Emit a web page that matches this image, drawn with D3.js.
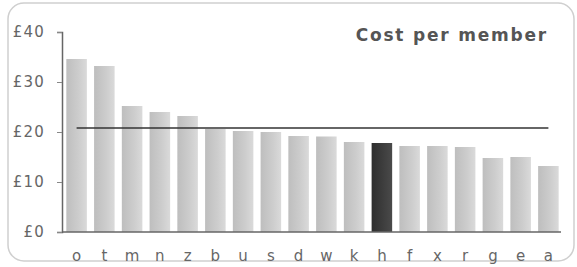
<!DOCTYPE html>
<html><head><meta charset="utf-8">
<script src="https://cdn.jsdelivr.net/npm/d3@7"></script>
<style>body{margin:0;background:#fff}svg{display:block}</style>
</head><body>
<svg id="c" width="577" height="267"></svg>
<script>
const categories = ["o","t","m","n","z","b","u","s","d","w","k","h","f","x","r","g","e","a"];
const values = [34.6,33.2,25.2,24,23.2,20.6,20.2,20,19.2,19.1,18,17.8,17.2,17.2,17,14.8,15,13.2];
const highlight = "h";
const average = 20.8;
const yTicks = [0,10,20,30,40];
const title = "Cost per member";

const svg = d3.select("#c");
const defs = svg.append("defs");
const g1 = defs.append("linearGradient").attr("id","bar").attr("x1","0").attr("x2","1");
g1.append("stop").attr("offset","0").attr("stop-color","#bebebe");
g1.append("stop").attr("offset","0.6").attr("stop-color","#cdcdcd");
g1.append("stop").attr("offset","1").attr("stop-color","#dadada");
const g2 = defs.append("linearGradient").attr("id","barH").attr("x1","0").attr("x2","1");
g2.append("stop").attr("offset","0").attr("stop-color","#2e2e2e");
g2.append("stop").attr("offset","1").attr("stop-color","#4a4a4a");

// frame
svg.append("rect").attr("x",8).attr("y",3).attr("width",566).attr("height",258)
  .attr("rx",16).attr("fill","#fff").attr("stroke","#cfcfcf").attr("stroke-width",1.5);

const x = d3.scaleBand().domain(categories).range([63,562]).paddingInner(0.26).paddingOuter(0.12);
const y = d3.scaleLinear().domain([0,40]).range([232,32]);

svg.append("g").selectAll("rect").data(categories).join("rect")
  .attr("x",d=>x(d)).attr("width",x.bandwidth())
  .attr("y",(d,i)=>y(values[i])).attr("height",(d,i)=>y(0)-y(values[i]))
  .attr("fill",d=>d===highlight?"url(#barH)":"url(#bar)");

// y axis
const yAxis = d3.axisLeft(y).tickValues(yTicks).tickFormat(d=>"£"+d).tickSize(5).tickPadding(12);
const ya = svg.append("g").attr("transform","translate(62,0)").call(yAxis);
ya.select(".domain").attr("stroke","#666").attr("stroke-width",1.5);
ya.selectAll(".tick line").attr("stroke","#888");
ya.selectAll(".tick text").attr("fill","#666").style("font-family","DejaVu Sans").style("font-size","15px").style("letter-spacing","1.2px");

// x axis
const xAxis = d3.axisBottom(x).tickSize(0).tickPadding(18);
const xa = svg.append("g").attr("transform","translate(0,232)").call(xAxis);
xa.select(".domain").remove();
svg.append("line").attr("x1",62).attr("x2",561).attr("y1",232).attr("y2",232).attr("stroke","#666").attr("stroke-width",1.5);
xa.selectAll(".tick text").attr("fill","#666").style("font-family","DejaVu Sans").style("font-size","15px");

// average line
const first = categories[0], last = categories[categories.length-1];
svg.append("line").attr("x1",x(first)+x.bandwidth()/2).attr("x2",x(last)+x.bandwidth()/2)
  .attr("y1",y(average)).attr("y2",y(average)).attr("stroke","#333").attr("stroke-width",1.5);

svg.append("text").attr("x",548).attr("y",41).attr("text-anchor","end")
  .attr("fill","#555").style("font-family","DejaVu Sans").style("font-weight","bold").style("font-size","17px").style("letter-spacing","1.8px")
  .text(title);
</script>
</body></html>
